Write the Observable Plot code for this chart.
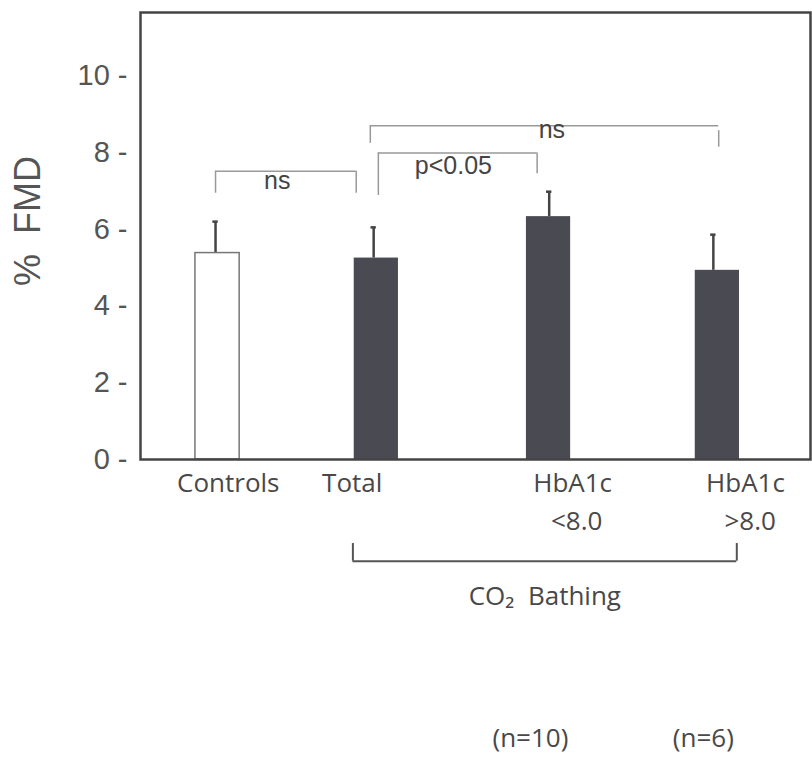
<!DOCTYPE html>
<html><head><meta charset="utf-8">
<script src="https://cdn.jsdelivr.net/npm/d3@7"></script>
<script src="https://cdn.jsdelivr.net/npm/@observablehq/plot@0.6"></script>
<style>body{margin:0;background:#fff}</style>
</head><body><div id="chart"></div>
<script>
// ---- data ----
const groups    = ["Controls", "Total", "HbA1c <8.0", "HbA1c >8.0"];
const xPos      = [1.15, 3.52, 6.09, 8.61];   // bar centres on a 0–10 x scale
const errX      = [1.12, 3.48, 6.10, 8.55];
const means     = [5.38, 5.25, 6.33, 4.93];
const errTop    = [6.20, 6.05, 6.98, 5.86];
const barFill   = ["white", "#4a4a52", "#4a4a52", "#4a4a52"];
const barStroke = ["#777", "none", "none", "none"];
const yTicks    = [0, 2, 4, 6, 8, 10];

const label1    = ["Controls", "Total", "HbA1c", "HbA1c"];
const label1X   = [1.31, 3.16, 6.45, 9.03];
const label2    = ["<8.0", ">8.0"];
const label2X   = [6.51, 9.10];
const nLabels   = ["(n=10)", "(n=6)"];
const nLabelsX  = [5.82, 8.40];

// significance brackets
const brkX1     = [1.12, 3.55, 3.43];
const brkX2     = [3.22, 5.92, 8.63];
const brkY      = [7.51, 7.99, 8.70];
const brkLegL   = [6.94, 6.88, 8.24];
const brkLegRs  = [7.51, 7.99, 8.57];
const brkLegR   = [6.94, 7.45, 8.14];
const brkText   = ["ns", "p<0.05", "ns"];
const brkTextX  = [2.04, 4.67, 6.14];
const brkTextY  = [7.06, 7.45, 8.39];

// CO2 bathing group bracket
const co2X      = [3.17, 8.90];
const co2Y      = -2.65;
const co2LegTop = -2.19;
const co2Label  = "CO\u2082\u00a0 Bathing";

// ---- tables ----
const bars = groups.map((g, i) => ({g, x: xPos[i], ex: errX[i], m: means[i], e: errTop[i], fill: barFill[i], stroke: barStroke[i]}));
const brk = brkX1.map((x1, i) => ({x1, x2: brkX2[i], y: brkY[i], l: brkLegL[i], rs: brkLegRs[i], r: brkLegR[i], t: brkText[i], tx: brkTextX[i], ty: brkTextY[i]}));
const l1 = label1.map((t, i) => ({t, x: label1X[i]}));
const l2 = label2.map((t, i) => ({t, x: label2X[i]}));
const nl = nLabels.map((t, i) => ({t, x: nLabelsX[i]}));

const halfW = 0.33, cap = 0.04;
const txt = {fontFamily: "Open Sans, Noto Sans, sans-serif", fontSize: 26, fill: "#484848", lineAnchor: "bottom"};

const chart = Plot.plot({
  width: 812, height: 759,
  marginLeft: 140, marginRight: 2, marginTop: 12, marginBottom: 300,
  x: {domain: [0, 10], axis: null},
  y: {domain: [0, 11.65], axis: null},
  marks: [
    // brackets
    Plot.ruleY(brk, {x1: "x1", x2: "x2", y: "y", stroke: "#999", strokeWidth: 1.5}),
    Plot.ruleX(brk, {x: "x1", y1: "y", y2: "l", stroke: "#999", strokeWidth: 1.5}),
    Plot.ruleX(brk, {x: "x2", y1: "rs", y2: "r", stroke: "#999", strokeWidth: 1.5}),
    Plot.text(brk, {x: "tx", y: "ty", text: "t", fontFamily: "Liberation Sans, Arial, sans-serif", fontSize: 25, fill: "#444", lineAnchor: "bottom"}),
    // error bars
    Plot.ruleX(bars, {x: "ex", y1: "m", y2: "e", stroke: "#444", strokeWidth: 2.5}),
    Plot.ruleY(bars, {x1: d => d.ex - cap, x2: d => d.ex + cap, y: "e", stroke: "#444", strokeWidth: 2.5}),
    // bars
    Plot.rect(bars, {x1: d => d.x - halfW, x2: d => d.x + halfW, y1: 0, y2: "m", fill: "fill", stroke: "stroke", strokeWidth: 1.5}),
    Plot.frame({stroke: "#444", strokeWidth: 2.5}),
    // y axis
    Plot.axisY({ticks: yTicks, tickSize: 0, tickPadding: 13, tickFormat: d => `${d} -`, fontSize: 29, fontFamily: "Liberation Sans, Arial, sans-serif", fill: "#555", label: null}),
    Plot.text(["%\u00a0\u00a0FMD"], {frameAnchor: "left", textAnchor: "middle", dx: -112, dy: -15, rotate: -90, fontSize: 36, fontFamily: "Liberation Sans, Arial, sans-serif", fill: "#555"}),
    // category labels
    Plot.text(l1, {x: "x", y: -0.86, text: "t", ...txt}),
    Plot.text(l2, {x: "x", y: -1.85, text: "t", ...txt}),
    // CO2 bracket
    Plot.ruleY([co2Y], {x1: co2X[0], x2: co2X[1], y: d => d, stroke: "#555", strokeWidth: 2}),
    Plot.ruleX(co2X, {x: d => d, y1: co2Y, y2: co2LegTop, stroke: "#555", strokeWidth: 2}),
    Plot.text([co2Label], {x: (co2X[0] + co2X[1]) / 2, y: -3.80, text: d => d, ...txt}),
    Plot.text(nl, {x: "x", y: -7.48, text: "t", ...txt})
  ]
});
document.getElementById("chart").append(chart);
</script>
</body></html>
